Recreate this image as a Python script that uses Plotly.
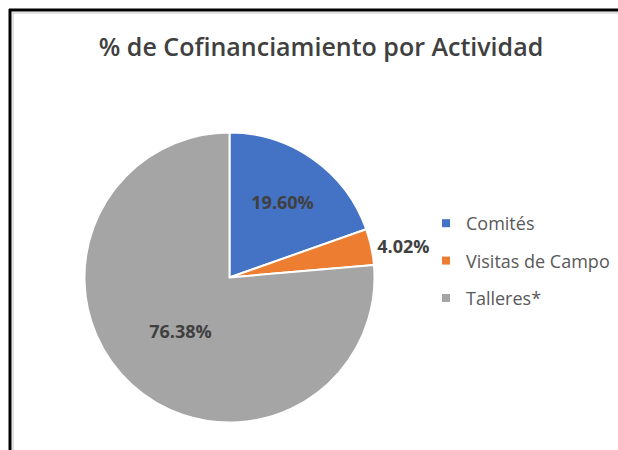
import plotly.graph_objects as go

# datos del grafico
actividades = ["Comités", "Visitas de Campo", "Talleres*"]
porcentajes = [19.60, 4.02, 76.38]
colores = ["#4472C4", "#ED7D31", "#A5A5A5"]
posiciones_texto = ["inside", "outside", "inside"]

fig = go.Figure()

fig.add_trace(go.Pie(
    labels=actividades,
    values=porcentajes,
    sort=False,
    direction="clockwise",
    rotation=0,
    marker=dict(colors=colores, line=dict(color="white", width=2)),
    texttemplate="%{value:.2f}%",
    textposition=posiciones_texto,
    insidetextorientation="horizontal",
    textfont=dict(family="Open Sans", size=18, color="#404040", weight="bold"),
    hoverinfo="label+value",
    showlegend=False,
    domain=dict(x=[0.1367, 0.6060], y=[0.0611, 0.7056]),
))

# leyenda con cuadritos pequenos (una entrada por actividad)
for nombre, color in zip(actividades, colores):
    fig.add_trace(go.Scatter(
        x=[None], y=[None], mode="markers", name=nombre, legendgroup=nombre,
        marker=dict(symbol="square", size=8, color=color),
        hoverinfo="skip",
    ))

# marco del grafico (lineas negras y gris claro, como en la captura)
fig.add_shape(type="line", xref="paper", yref="paper", x0=9/618, x1=1, y0=1-10/450, y1=1-10/450,
              line=dict(color="black", width=3))
fig.add_shape(type="line", xref="paper", yref="paper", x0=10/618, x1=10/618, y0=0, y1=1-9/450,
              line=dict(color="black", width=3))
fig.add_shape(type="line", xref="paper", yref="paper", x0=12/618, x1=1, y0=1-13/450, y1=1-13/450,
              line=dict(color="#D9D9D9", width=1.5))
fig.add_shape(type="line", xref="paper", yref="paper", x0=13/618, x1=13/618, y0=0, y1=1-12/450,
              line=dict(color="#D9D9D9", width=1.5))

fig.update_xaxes(visible=False)
fig.update_yaxes(visible=False)

fig.update_layout(
    width=618, height=450,
    margin=dict(l=0, r=0, t=0, b=0),
    paper_bgcolor="white",
    plot_bgcolor="white",
    title=dict(text="% de Cofinanciamiento por Actividad",
               x=321/618, xanchor="center", y=1-47/450, yanchor="middle",
               font=dict(family="Open Sans", size=25, color="#404040", weight=600)),
    legend=dict(x=426/618, xanchor="left", y=1-261/450, yanchor="middle",
                traceorder="grouped", tracegroupgap=11, itemwidth=30,
                font=dict(family="Open Sans", size=18, color="#595959"),
                bgcolor="rgba(0,0,0,0)"),
    showlegend=True,
)

fig.write_html("out.html", config={"displayModeBar": False},
               post_script="document.body.style.margin='0';")
